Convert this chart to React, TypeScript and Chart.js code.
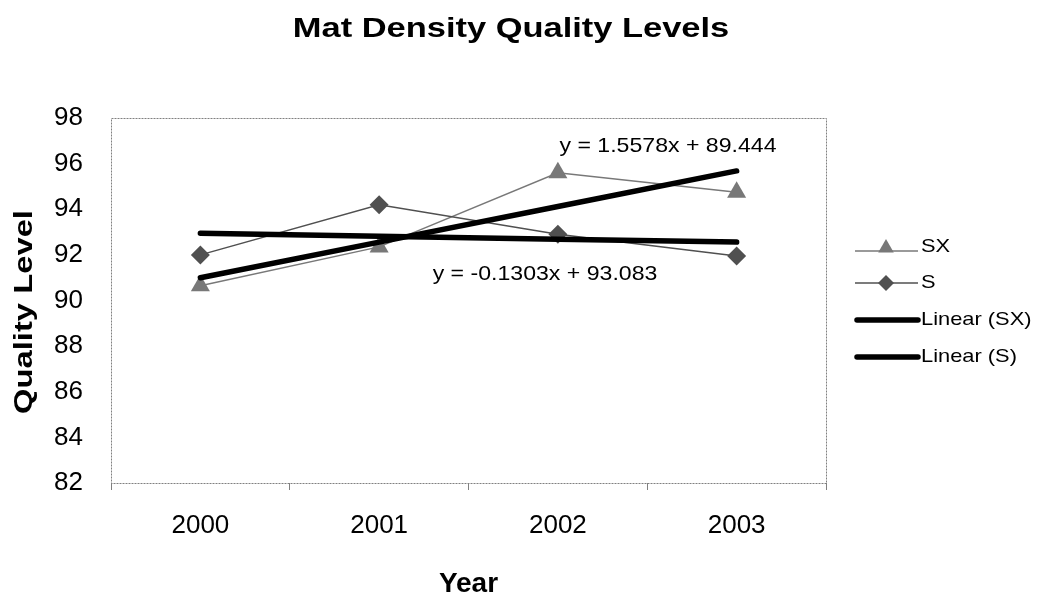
import React, { useEffect, useRef } from "react";
import { Chart, registerables } from "chart.js";

Chart.register(...registerables);

const years = ["2000", "2001", "2002", "2003"];
const sxValues = [90.65, 92.35, 95.6, 94.75];
const sValues = [92.0, 94.2, 92.9, 91.95];
const sxTrend = [91.0, 92.56, 94.12, 95.68];
const sTrend = [92.95, 92.82, 92.69, 92.56];
const yMin = 82;
const yMax = 98;
const yStep = 2;
const legendLabels = ["SX", "S", "Linear (SX)", "Linear (S)"];
const eqSX = "y = 1.5578x + 89.444";
const eqS = "y = -0.1303x + 93.083";
const titleText = "Mat Density Quality Levels";
const xTitle = "Year";
const yTitle = "Quality Level";

const FONT = "'Liberation Sans', Arial, sans-serif";
const SX_COLOR = "#787878";
const S_COLOR = "#505050";

function stretchText(
  ctx: CanvasRenderingContext2D,
  text: string,
  x: number,
  y: number,
  font: string,
  sx: number,
  align: CanvasTextAlign,
  baseline: CanvasTextBaseline,
  rotate = 0
) {
  ctx.save();
  ctx.translate(x, y);
  if (rotate) ctx.rotate(rotate);
  ctx.scale(sx, 1);
  ctx.font = font;
  ctx.fillStyle = "#000";
  ctx.textAlign = align;
  ctx.textBaseline = baseline;
  ctx.fillText(text, 0, 0);
  ctx.restore();
}

function triangle(ctx: CanvasRenderingContext2D, x: number, y: number, r: number, color: string) {
  ctx.save();
  ctx.beginPath();
  for (let i = 0; i < 3; i++) {
    const a = (i * 2 * Math.PI) / 3;
    const px = x + Math.sin(a) * r;
    const py = y - Math.cos(a) * r;
    if (i === 0) ctx.moveTo(px, py);
    else ctx.lineTo(px, py);
  }
  ctx.closePath();
  ctx.fillStyle = color;
  ctx.fill();
  ctx.restore();
}

function diamond(ctx: CanvasRenderingContext2D, x: number, y: number, r: number, color: string) {
  ctx.save();
  ctx.beginPath();
  ctx.moveTo(x, y - r);
  ctx.lineTo(x + r, y);
  ctx.lineTo(x, y + r);
  ctx.lineTo(x - r, y);
  ctx.closePath();
  ctx.fillStyle = color;
  ctx.fill();
  ctx.restore();
}

const decorPlugin = {
  id: "decor",
  beforeDatasetsDraw(chart: any) {
    const { ctx, chartArea } = chart;
    ctx.save();
    ctx.strokeStyle = "#808080";
    ctx.lineWidth = 1;
    ctx.setLineDash([2, 1]);
    ctx.strokeRect(
      Math.round(chartArea.left) + 0.5,
      Math.round(chartArea.top) + 0.5,
      Math.round(chartArea.right - chartArea.left),
      Math.round(chartArea.bottom - chartArea.top)
    );
    ctx.restore();
  },
  afterDraw(chart: any) {
    const { ctx, chartArea } = chart;
    const xs = chart.scales.x;
    const ys = chart.scales.y;
    // Title
    stretchText(ctx, titleText, 511, 37, `bold 28px ${FONT}`, 1.23, "center", "alphabetic");
    // Axis titles
    stretchText(ctx, xTitle, (chartArea.left + chartArea.right) / 2, 592, `bold 28px ${FONT}`, 1.0, "center", "alphabetic");
    stretchText(ctx, yTitle, 32, 312, `bold 26px ${FONT}`, 1.26, "center", "alphabetic", -Math.PI / 2);
    // Equations
    stretchText(ctx, eqSX, xs.getPixelForValue(2.616), ys.getPixelForValue(96.51), `21px ${FONT}`, 1.1, "center", "alphabetic");
    stretchText(ctx, eqS, xs.getPixelForValue(1.928), ys.getPixelForValue(90.9), `21px ${FONT}`, 1.1, "center", "alphabetic");
    // Legend
    const lx0 = 855;
    const lx1 = 918;
    const mx = 886;
    const tx = 921;
    const rows = [247, 283, 320, 357];
    ctx.save();
    ctx.strokeStyle = SX_COLOR;
    ctx.lineWidth = 1.5;
    ctx.beginPath();
    ctx.moveTo(lx0, rows[0] + 4);
    ctx.lineTo(lx1, rows[0] + 4);
    ctx.stroke();
    ctx.restore();
    triangle(ctx, mx, rows[0] + 1, 9, SX_COLOR);
    ctx.save();
    ctx.strokeStyle = S_COLOR;
    ctx.lineWidth = 1.5;
    ctx.beginPath();
    ctx.moveTo(lx0, rows[1]);
    ctx.lineTo(lx1, rows[1]);
    ctx.stroke();
    ctx.restore();
    diamond(ctx, mx, rows[1], 8, S_COLOR);
    [rows[2], rows[3]].forEach((ry) => {
      ctx.save();
      ctx.strokeStyle = "#000";
      ctx.lineWidth = 5.5;
      ctx.lineCap = "round";
      ctx.beginPath();
      ctx.moveTo(lx0 + 2, ry);
      ctx.lineTo(lx1, ry);
      ctx.stroke();
      ctx.restore();
    });
    legendLabels.forEach((lab, i) => {
      stretchText(ctx, lab, tx, rows[i], `19px ${FONT}`, 1.15, "left", "middle");
    });
  },
};

export default function App() {
  const ref = useRef<HTMLCanvasElement | null>(null);
  useEffect(() => {
    if (!ref.current) return;
    const chart = new Chart(ref.current, {
      type: "line",
      data: {
        labels: years,
        datasets: [
          {
            label: "Linear (SX)",
            data: sxTrend,
            borderColor: "#000",
            borderWidth: 5.5,
            borderCapStyle: "round",
            pointRadius: 0,
            fill: false,
          },
          {
            label: "Linear (S)",
            data: sTrend,
            borderColor: "#000",
            borderWidth: 5.5,
            borderCapStyle: "round",
            pointRadius: 0,
            fill: false,
          },
          {
            label: "S",
            data: sValues,
            borderColor: S_COLOR,
            borderWidth: 1.5,
            pointStyle: "rectRot",
            pointRadius: 9.5,
            pointBackgroundColor: S_COLOR,
            pointBorderColor: S_COLOR,
            pointBorderWidth: 0,
            fill: false,
          },
          {
            label: "SX",
            data: sxValues,
            borderColor: SX_COLOR,
            borderWidth: 1.5,
            pointStyle: "triangle",
            pointRadius: 11,
            pointBackgroundColor: SX_COLOR,
            pointBorderColor: SX_COLOR,
            pointBorderWidth: 0,
            fill: false,
          },
        ],
      },
      options: {
        responsive: false,
        animation: false,
        layout: { padding: { top: 118, right: 213, left: 0, bottom: 0 } },
        plugins: {
          legend: { display: false },
          title: { display: false },
          tooltip: { enabled: false },
        },
        scales: {
          x: {
            type: "category",
            offset: true,
            grid: {
              offset: true,
              drawOnChartArea: false,
              drawTicks: true,
              tickLength: 7,
              color: "#808080",
            },
            border: { display: false },
            ticks: {
              color: "#000",
              font: { family: FONT, size: 26 },
              padding: 20,
              maxRotation: 0,
            },
            afterFit: (s: any) => {
              s.height = 114;
            },
          },
          y: {
            min: yMin,
            max: yMax,
            grid: { display: false, drawTicks: false },
            border: { display: false },
            ticks: {
              stepSize: yStep,
              color: "#000",
              font: { family: FONT, size: 26 },
              padding: 28,
            },
            afterFit: (s: any) => {
              s.width = 111;
            },
          },
        },
      },
      plugins: [decorPlugin],
    } as any);
    return () => chart.destroy();
  }, []);
  return (
    <div style={{ position: "absolute", left: 0, top: 0, width: 1039, height: 597, background: "#fff" }}>
      <canvas ref={ref} width={1039} height={597} style={{ display: "block" }} />
    </div>
  );
}
